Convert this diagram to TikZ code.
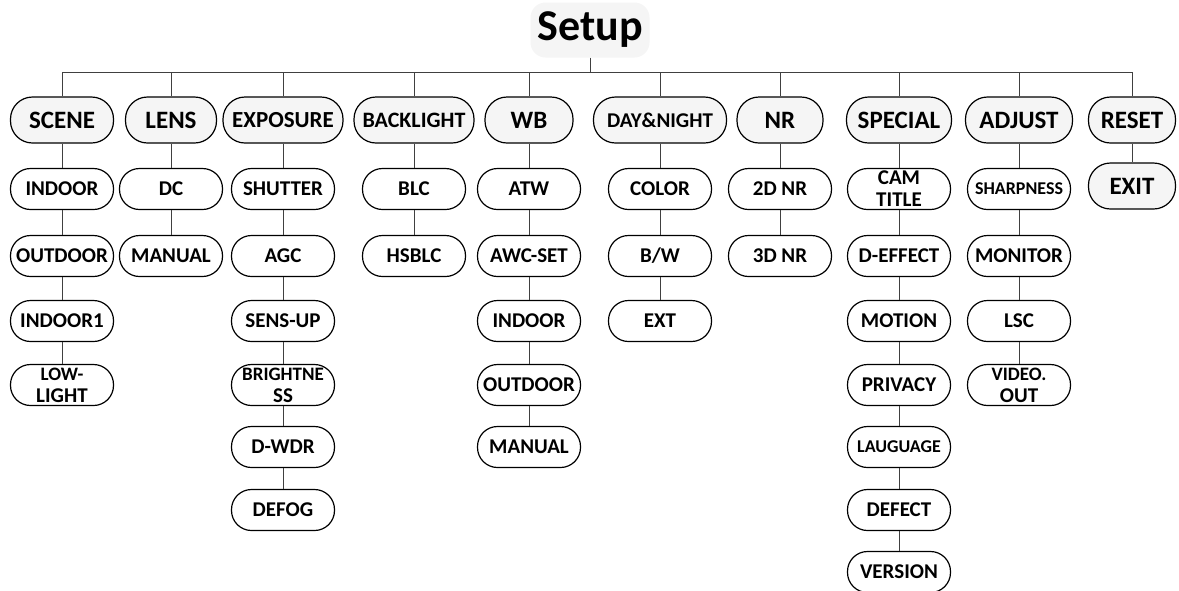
\documentclass[tikz,border=0pt]{standalone}
\usepackage{fontspec}
\setmainfont{Carlito}
\usetikzlibrary{positioning}
% one column of sub menu items below a header node
\newcommand{\menucol}[3]{%
  \foreach \t [count=\i] in {#3}{%
    \pgfmathsetmacro\yy{{189,256,321,385,447,510,572}[\i-1]}%
    \node[itm] (#1\i) at (#2,\yy) {\t};
    \ifnum\i=1 \draw[link] (#1) -- (#1\i);
    \else \pgfmathtruncatemacro\j{\i-1}\draw[link] (#1\j) -- (#1\i); \fi
  }}

\begin{document}
\begin{tikzpicture}[x=1pt,y=-1pt,
  root/.style={fill=gray!8,rounded corners=15pt,minimum width=119pt,minimum height=55pt,inner sep=0pt,font=\fontsize{44}{48}\selectfont\bfseries},
  hdr/.style={draw,line width=1.2pt,fill=gray!8,rounded corners=22pt,minimum height=46pt,inner sep=0pt},
  itm/.style={draw,line width=1.2pt,rounded corners=20pt,minimum width=103pt,minimum height=41pt,inner sep=0pt,align=center,font=\fontsize{21}{22}\selectfont\bfseries},
  link/.style={draw=black!75,line width=0.8pt}]
  \useasboundingbox (0,0) rectangle (1179,590);
  \node[root] (setup) at (590,30) {Setup};
  \coordinate (bus) at (590,72);
  \draw[link] (setup) -- (bus);
  % header row
  \foreach \n/\x/\w/\fs/\txt in {scene/62/103/25/SCENE, lens/171/91/25/LENS, expo/283/120/23/EXPOSURE,
      back/414/120/22/BACKLIGHT, wb/529/88/25/WB, day/660/133/21/DAY\&NIGHT, nr/780/86/25/NR,
      spec/899/105/25/SPECIAL, adj/1019/107/25/ADJUST, reset/1132/87/25/RESET}{
    \node[hdr,minimum width=\w pt,font=\fontsize{\fs}{\fs}\selectfont\bfseries] (\n) at (\x,120) {\txt};
    \draw[link] (\n) -- (\n.north |- bus);
  }
  \draw[link] (scene.north |- bus) -- (reset.north |- bus);
  % sub menus
  \menucol{scene}{62}{INDOOR,OUTDOOR,INDOOR1,{\fontsize{19}{22}\selectfont LOW-\\LIGHT}}
  \menucol{lens}{171}{DC,MANUAL}
  \menucol{expo}{283}{SHUTTER,AGC,SENS-UP,{\fontsize{19}{22}\selectfont BRIGHTNE\\SS},D-WDR,DEFOG}
  \menucol{back}{414}{BLC,HSBLC}
  \menucol{wb}{529}{ATW,AWC-SET,INDOOR,OUTDOOR,MANUAL}
  \menucol{day}{660}{COLOR,B/W,EXT}
  \menucol{nr}{780}{2D NR,3D NR}
  \menucol{spec}{899}{{\fontsize{21}{24}\selectfont CAM\\TITLE},D-EFFECT,MOTION,PRIVACY,{\fontsize{18}{20}\selectfont LAUGUAGE},DEFECT,VERSION}
  \menucol{adj}{1019}{{\fontsize{18}{20}\selectfont SHARPNESS},MONITOR,LSC,{\fontsize{19}{22}\selectfont VIDEO.\\OUT}}
  \node[hdr,minimum width=87pt,font=\fontsize{25}{25}\selectfont\bfseries] (exit) at (1132,186) {EXIT};
  \draw[link] (reset) -- (exit);
\end{tikzpicture}
\end{document}
